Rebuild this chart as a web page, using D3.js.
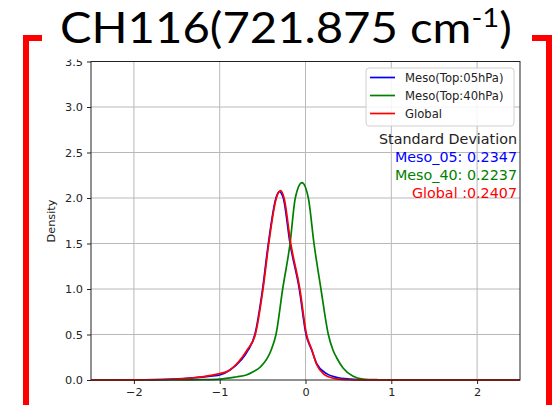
<!DOCTYPE html>
<html>
<head>
<meta charset="utf-8">
<script src="https://cdn.jsdelivr.net/npm/d3@7"></script>
<style>
  html, body { margin: 0; padding: 0; background: #fff; }
  svg { display: block; }
</style>
</head>
<body>
<svg id="chart" width="553" height="405"></svg>
<script>
// Kernel density curves of the first-guess departures for channel 116
const meso05X = [-2.5, -2.0, -1.6, -1.35, -1.08, -1.0, -0.88, -0.75, -0.667, -0.59, -0.5, -0.433, -0.344, -0.305, -0.259, -0.18, -0.072, 0.006, 0.072, 0.13, 0.245, 0.36, 0.52, 0.7, 1.0, 2.5];
const meso05Y = [0, 0.001, 0.006, 0.02, 0.045, 0.055, 0.11, 0.22, 0.33, 0.5, 1.0, 1.5, 2.0, 2.07, 2.0, 1.5, 1.0, 0.5, 0.33, 0.18, 0.07, 0.03, 0.01, 0.002, 0, 0];

const meso40X = [-2.5, -1.5, -1.2, -1.0, -0.8, -0.69, -0.61, -0.53, -0.40, -0.344, -0.266, -0.18, -0.119, -0.041, 0.033, 0.099, 0.18, 0.266, 0.32, 0.36, 0.44, 0.55, 0.67, 0.85, 1.0, 2.5];
const meso40Y = [0, 0.001, 0.004, 0.01, 0.036, 0.055, 0.09, 0.14, 0.33, 0.5, 1.0, 1.5, 2.0, 2.17, 2.0, 1.5, 1.0, 0.5, 0.33, 0.25, 0.13, 0.044, 0.011, 0.003, 0.001, 0];

const globalX = [-2.5, -2.0, -1.6, -1.3, -1.1, -1.0, -0.9, -0.78, -0.68, -0.585, -0.495, -0.428, -0.34, -0.29, -0.25, -0.172, -0.066, 0.012, 0.075, 0.13, 0.22, 0.32, 0.45, 0.7, 1.0, 2.5];
const globalY = [0, 0.002, 0.008, 0.025, 0.05, 0.07, 0.1, 0.2, 0.33, 0.5, 1.0, 1.5, 2.0, 2.08, 2.0, 1.5, 1.0, 0.5, 0.33, 0.17, 0.06, 0.02, 0.005, 0.001, 0, 0];

const seriesNames = ["Meso(Top:05hPa)", "Meso(Top:40hPa)", "Global"];
const seriesColors = ["#0000ff", "#008000", "#ff0000"];
const stdLabels = ["Meso_05: 0.2347", "Meso_40: 0.2237", "Global :0.2407"];
const xTicks = [-2, -1, 0, 1, 2];
const yTicks = [0, 0.5, 1.0, 1.5, 2.0, 2.5, 3.0, 3.5];

const svg = d3.select("#chart");
const fontAxis = "'DejaVu Sans', sans-serif";

const plot = { left: 91, right: 520, top: 61.5, bottom: 380 };
const x = d3.scaleLinear().domain([-2.5, 2.5]).range([plot.left, plot.right]);
const y = d3.scaleLinear().domain([0, 3.5]).range([plot.bottom, plot.top]);

// grid
const grid = svg.append("g");
grid.selectAll("line.vx").data(xTicks).join("line")
  .attr("x1", d => x(d)).attr("x2", d => x(d))
  .attr("y1", plot.top).attr("y2", plot.bottom)
  .attr("stroke", "#b8b8b8").attr("stroke-width", 1);
grid.selectAll("line.hy").data(yTicks.filter(d => d > 0)).join("line")
  .attr("x1", plot.left).attr("x2", plot.right)
  .attr("y1", d => y(d)).attr("y2", d => y(d))
  .attr("stroke", "#b8b8b8").attr("stroke-width", 1);

// density curves
const series = [
  { xs: meso05X, ys: meso05Y },
  { xs: meso40X, ys: meso40Y },
  { xs: globalX, ys: globalY }
];
const line = d3.line().x(d => x(d[0])).y(d => y(d[1])).curve(d3.curveMonotoneX);
svg.append("clipPath").attr("id", "plotclip").append("rect")
  .attr("x", plot.left).attr("y", plot.top)
  .attr("width", plot.right - plot.left).attr("height", plot.bottom - plot.top + 1);
series.forEach((s, i) => {
  svg.append("path")
    .datum(s.xs.map((v, k) => [v, s.ys[k]]))
    .attr("d", line)
    .attr("fill", "none")
    .attr("stroke", seriesColors[i])
    .attr("stroke-width", 1.7)
    .attr("clip-path", "url(#plotclip)");
});

// frame
svg.append("rect")
  .attr("x", plot.left).attr("y", plot.top)
  .attr("width", plot.right - plot.left).attr("height", plot.bottom - plot.top)
  .attr("fill", "none").attr("stroke", "#222").attr("stroke-width", 1);

// axes
const xAxis = d3.axisBottom(x).tickValues(xTicks).tickSize(4).tickPadding(4).tickFormat(d3.format("d"));
const yAxis = d3.axisLeft(y).tickValues(yTicks).tickSize(4).tickPadding(4).tickFormat(d3.format(".1f"));
const gx = svg.append("g").attr("transform", `translate(0,${plot.bottom})`).call(xAxis);
const gy = svg.append("g").attr("transform", `translate(${plot.left},0)`).call(yAxis);
[gx, gy].forEach(g => {
  g.select(".domain").remove();
  g.selectAll(".tick line").attr("stroke", "#222");
  g.selectAll(".tick text").attr("fill", "#222").style("font-family", fontAxis).style("font-size", "11.3px");
});

svg.append("text")
  .attr("transform", `translate(55,221) rotate(-90)`)
  .attr("text-anchor", "middle")
  .style("font-family", fontAxis).style("font-size", "11.3px")
  .attr("fill", "#222")
  .text("Density");

// legend
const leg = svg.append("g");
leg.append("rect")
  .attr("x", 366).attr("y", 68).attr("width", 148).attr("height", 58)
  .attr("rx", 3).attr("fill", "#fff").attr("fill-opacity", 0.85)
  .attr("stroke", "#d0d0d0").attr("stroke-width", 1);
seriesNames.forEach((name, i) => {
  const cy = 77.5 + i * 18;
  leg.append("line").attr("x1", 370).attr("x2", 395).attr("y1", cy).attr("y2", cy)
    .attr("stroke", seriesColors[i]).attr("stroke-width", 1.7);
  leg.append("text").attr("x", 405).attr("y", cy).attr("dy", "0.35em")
    .style("font-family", fontAxis).style("font-size", "11.6px").attr("fill", "#222")
    .text(name);
});

// standard deviation annotation
svg.append("text").attr("x", 517).attr("y", 143.5).attr("text-anchor", "end")
  .style("font-family", fontAxis).style("font-size", "14.3px").attr("fill", "#222")
  .text("Standard Deviation");
stdLabels.forEach((t, i) => {
  svg.append("text").attr("x", 517).attr("y", 162 + i * 18).attr("text-anchor", "end")
    .style("font-family", fontAxis).style("font-size", "14.3px").attr("fill", seriesColors[i])
    .text(t);
});

// title band and red brackets
svg.append("rect").attr("x", 30).attr("y", 0).attr("width", 515).attr("height", 59.5).attr("fill", "#fff");
const red = "#ff0000";
svg.append("rect").attr("x", 23).attr("y", 35).attr("width", 6).attr("height", 370).attr("fill", red);
svg.append("rect").attr("x", 23).attr("y", 35).attr("width", 19).attr("height", 6).attr("fill", red);
svg.append("rect").attr("x", 546).attr("y", 35).attr("width", 6).attr("height", 370).attr("fill", red);
svg.append("rect").attr("x", 532).attr("y", 35).attr("width", 20).attr("height", 6).attr("fill", red);

const title = svg.append("text")
  .attr("x", 60).attr("y", 43)
  .style("font-family", "Lato, 'Open Sans', sans-serif")
  .style("font-size", "42px").attr("fill", "#000");
title.append("tspan").text("CH116(721.875 cm");
title.append("tspan").attr("dy", -16).style("font-size", "26px").text("-1");
title.append("tspan").attr("dy", 16).text(")");
// fit the title to its band
const bb = title.node().getBBox();
const targetW = 452;
title.attr("transform", `translate(60,0) scale(${targetW / bb.width},1) translate(-60,0)`);
</script>
</body>
</html>
